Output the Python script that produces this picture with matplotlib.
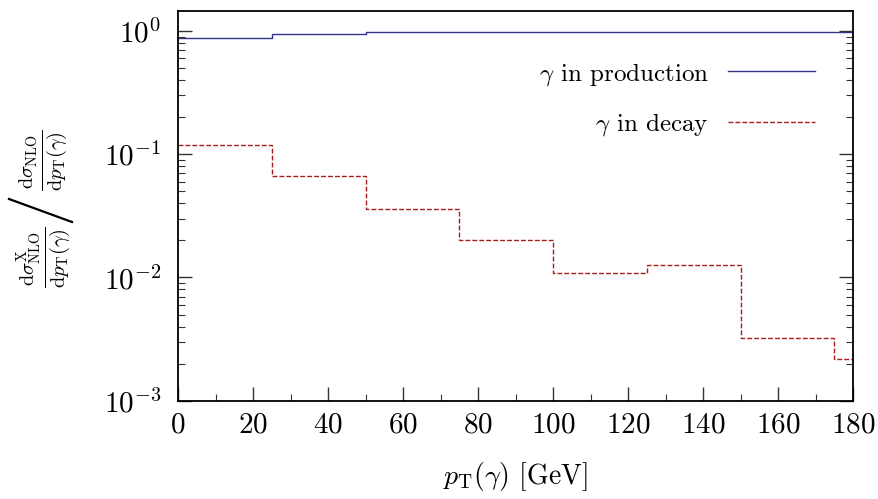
import matplotlib

matplotlib.use("Agg")
import matplotlib.pyplot as plt  # noqa: E402
from matplotlib.lines import Line2D  # noqa: E402
from matplotlib.ticker import LogLocator, MultipleLocator, NullFormatter  # noqa: E402

# p_T(gamma) bins [GeV]
pt_edges = [0, 25, 50, 75, 100, 125, 150, 175, 200]
# fraction of the NLO cross section with the photon in production / in decay
frac_production = [0.885, 0.945, 0.98, 0.98, 0.99, 0.99, 0.99, 0.99]
frac_decay = [0.119, 0.0662, 0.0362, 0.0202, 0.0109, 0.0126, 0.00323, 0.00219]

plt.rcParams["font.family"] = "serif"
plt.rcParams["font.serif"] = ["cmr10", "DejaVu Serif"]
plt.rcParams["mathtext.fontset"] = "cm"
plt.rcParams["axes.unicode_minus"] = False
plt.rcParams["axes.formatter.use_mathtext"] = True

W, H = 879, 499
fig = plt.figure(figsize=(W / 100, H / 100), dpi=100)
ax = fig.add_axes([0.2025, 0.197, 0.768, 0.78])

ax.stairs(frac_production, pt_edges, baseline=None, color="#32328a", linewidth=1.0,
          label=r"$\gamma$ in production")
ax.stairs(frac_decay, pt_edges, baseline=None, color="#a81c1c", linewidth=1.0,
          linestyle=(0, (3.5, 1.5)), label=r"$\gamma$ in decay")

ax.set_yscale("log")
ax.set_xlim(0, 180)
ax.set_ylim(1e-3, 1.44)
ax.xaxis.set_major_locator(MultipleLocator(20))
ax.xaxis.set_minor_locator(MultipleLocator(10))
ax.yaxis.set_major_locator(LogLocator(base=10, numticks=10))
ax.yaxis.set_minor_locator(LogLocator(base=10, subs=range(2, 10), numticks=20))
ax.yaxis.set_minor_formatter(NullFormatter())

ax.tick_params(which="both", direction="in", top=False, right=True, color="#333333")
ax.tick_params(which="major", length=10, width=1.0, labelsize=21)
ax.tick_params(which="minor", length=5, width=0.8)
ax.tick_params(axis="x", which="major", pad=8)
ax.tick_params(axis="y", which="major", pad=12)
for sp in ax.spines.values():
    sp.set_linewidth(1.3)

ax.set_xlabel(r"$p_{\mathrm{T}}(\gamma)$ [GeV]", fontsize=20, labelpad=16)

# y label: ratio of two differential cross sections, written as frac / frac
frac_x = r"$\frac{\mathrm{d}\sigma^{\mathrm{X}}_{\mathrm{NLO}}}{\mathrm{d}p_{\mathrm{T}}(\gamma)}$"
frac_all = r"$\frac{\mathrm{d}\sigma_{\mathrm{NLO}}}{\mathrm{d}p_{\mathrm{T}}(\gamma)}$"
fig.text(44 / W, 1 - 257 / H, frac_x, rotation=90, fontsize=21, ha="center", va="center")
fig.text(44 / W, 1 - 160 / H, frac_all, rotation=90, fontsize=21, ha="center", va="center")
fig.add_artist(Line2D([9 / W, 72 / W], [1 - 199 / H, 1 - 222 / H], color="black",
                      linewidth=1.6, transform=fig.transFigure))

ax.legend(loc="upper right", bbox_to_anchor=(0.944, 0.874), frameon=False, markerfirst=False,
          fontsize=18, handlelength=3.5, handletextpad=0.75, labelspacing=0.95,
          borderpad=0, borderaxespad=0)

fig.savefig("out.png", dpi=100)
